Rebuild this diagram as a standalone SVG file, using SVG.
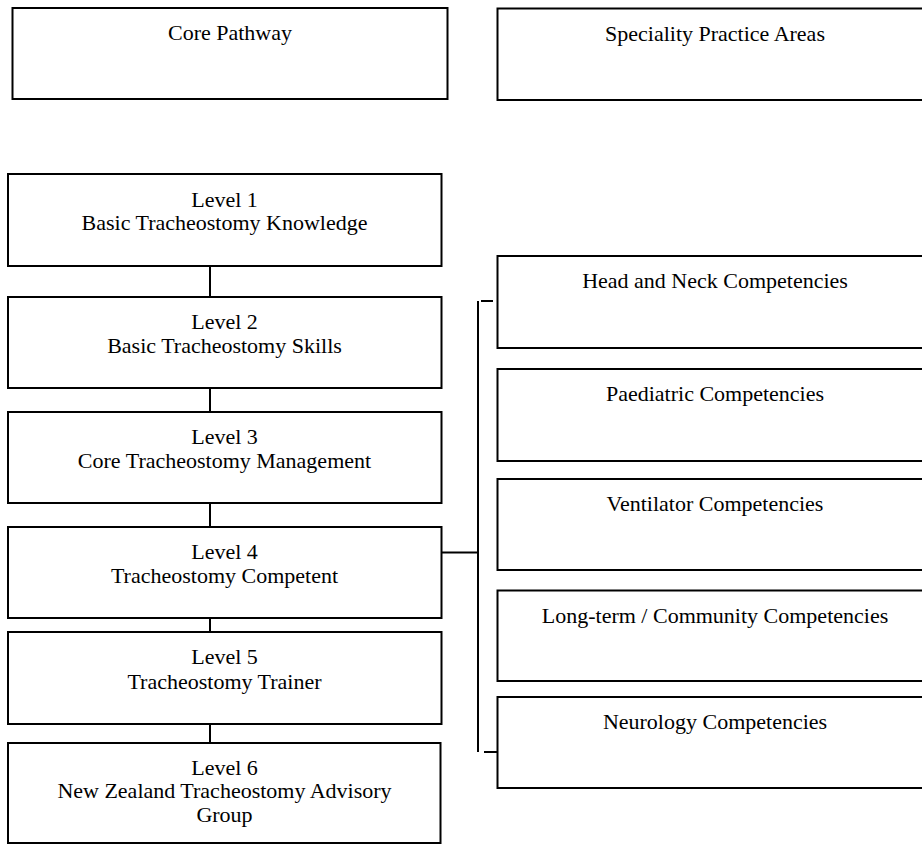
<svg xmlns="http://www.w3.org/2000/svg" width="922" height="845" viewBox="0 0 922 845">
<style>
.box{fill:#fff;stroke:#000;stroke-width:2}
.ln{stroke:#000;stroke-width:2;fill:none}
text{font-family:"Liberation Serif","Times New Roman",serif;font-size:22px;fill:#000;text-anchor:middle}
</style>
<rect width="922" height="845" fill="#fff"/>
<g id="connectors">
<line class="ln" x1="210" y1="266" x2="210" y2="297"/>
<line class="ln" x1="210" y1="388" x2="210" y2="412"/>
<line class="ln" x1="210" y1="503" x2="210" y2="527"/>
<line class="ln" x1="210" y1="618" x2="210" y2="632"/>
<line class="ln" x1="210" y1="724" x2="210" y2="743"/>
<line class="ln" x1="441" y1="552.5" x2="478" y2="552.5"/>
<line class="ln" x1="478" y1="301" x2="478" y2="752"/>
<line class="ln" x1="481" y1="301" x2="493" y2="301"/>
<line class="ln" x1="484" y1="752" x2="497" y2="752"/>
</g>
<g id="core-pathway">
<rect class="box" x="12.5" y="8" width="435" height="91"/>
<text x="230" y="40">Core Pathway</text>
</g>
<g id="speciality-practice-areas">
<rect class="box" x="497.5" y="8.5" width="436" height="91.5"/>
<text x="715" y="41">Speciality Practice Areas</text>
</g>
<g id="level1">
<rect class="box" x="8" y="174" width="433.5" height="92"/>
<text x="224.5" y="206.5">Level 1</text>
<text x="224.5" y="230">Basic Tracheostomy Knowledge</text>
</g>
<g id="level2">
<rect class="box" x="8" y="297" width="433.5" height="91"/>
<text x="224.5" y="329">Level 2</text>
<text x="224.5" y="352.5">Basic Tracheostomy Skills</text>
</g>
<g id="level3">
<rect class="box" x="8" y="412" width="433.5" height="91"/>
<text x="224.5" y="444">Level 3</text>
<text x="224.5" y="467.5">Core Tracheostomy Management</text>
</g>
<g id="level4">
<rect class="box" x="8" y="527" width="433.5" height="91"/>
<text x="224.5" y="558.5">Level 4</text>
<text x="224.5" y="583">Tracheostomy Competent</text>
</g>
<g id="level5">
<rect class="box" x="8" y="632" width="433.5" height="92"/>
<text x="224.5" y="664">Level 5</text>
<text x="224.5" y="688.5">Tracheostomy Trainer</text>
</g>
<g id="level6">
<rect class="box" x="8" y="743" width="432.5" height="100"/>
<text x="224.5" y="774.5">Level 6</text>
<text x="224.5" y="798">New Zealand Tracheostomy Advisory</text>
<text x="224.5" y="821.5">Group</text>
</g>
<g id="head-and-neck">
<rect class="box" x="497.5" y="256" width="436" height="92"/>
<text x="715" y="288">Head and Neck Competencies</text>
</g>
<g id="paediatric">
<rect class="box" x="497.5" y="369" width="436" height="92"/>
<text x="715" y="401">Paediatric Competencies</text>
</g>
<g id="ventilator">
<rect class="box" x="497.5" y="479" width="436" height="91"/>
<text x="715" y="511">Ventilator Competencies</text>
</g>
<g id="long-term-community">
<rect class="box" x="497.5" y="590.5" width="436" height="90.5"/>
<text x="715" y="622.5">Long-term / Community Competencies</text>
</g>
<g id="neurology">
<rect class="box" x="497.5" y="697" width="436" height="91"/>
<text x="715" y="729">Neurology Competencies</text>
</g>
</svg>
